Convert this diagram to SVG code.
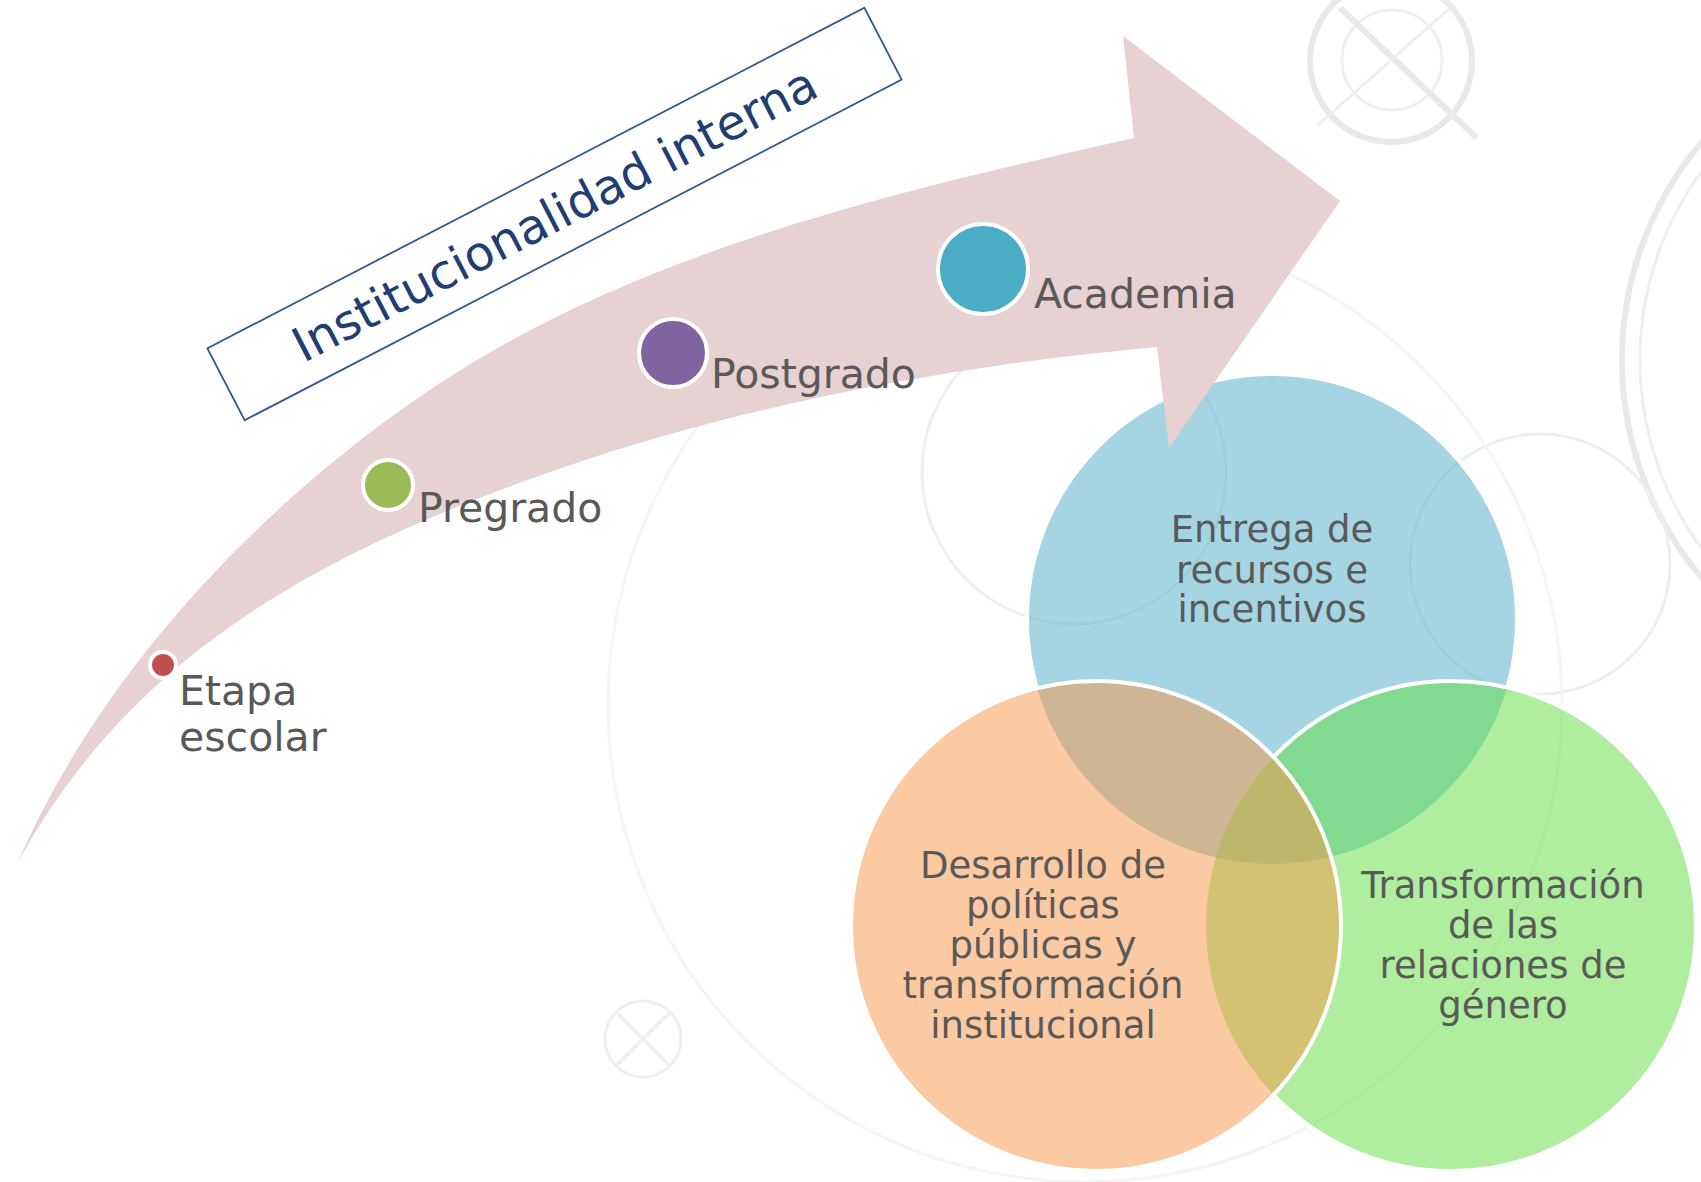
<svg xmlns="http://www.w3.org/2000/svg" width="1701" height="1182" viewBox="0 0 1701 1182">
<style>
.bg{fill:none;stroke:#efefef;stroke-width:3}
.bgt{fill:none;stroke:#e9e9e9;stroke-width:6}
.lbl{font-family:"DejaVu Sans","Verdana",sans-serif;font-size:41px;fill:#595959}
.vt{font-family:"DejaVu Sans","Verdana",sans-serif;font-size:37px;fill:#595959;text-anchor:middle}
.dot{stroke:#fff;stroke-width:4}
.ring{fill:none;stroke:#fff;stroke-width:4}
</style>
<defs>
<mask id="mBlue" maskUnits="userSpaceOnUse" x="0" y="0" width="1701" height="1182">
<rect width="1701" height="1182" fill="#fff"/>
<circle cx="1451" cy="926" r="245" fill="#000"/>
<circle cx="1096" cy="926" r="245" fill="#000"/>
</mask>
<mask id="mGreen" maskUnits="userSpaceOnUse" x="0" y="0" width="1701" height="1182">
<rect width="1701" height="1182" fill="#fff"/>
<circle cx="1096" cy="926" r="245" fill="#000"/>
</mask>
</defs>
<rect width="1701" height="1182" fill="#fff"/>
<g id="background">
<circle class="bgt" cx="1391" cy="61" r="81"/>
<circle class="bg" cx="1392" cy="60" r="50"/>
<line class="bgt" x1="1340" y1="8" x2="1477" y2="138"/>
<line class="bg" x1="1450" y1="8" x2="1317" y2="126"/>
<circle class="bgt" cx="1960" cy="360" r="338"/>
<circle class="bg" cx="1960" cy="360" r="320"/>
<circle class="bg" cx="1074" cy="472" r="152"/>
<circle class="bg" cx="1540" cy="564" r="130"/>
<circle cx="1085" cy="705" r="477" fill="none" stroke="#f5f5f5" stroke-width="3"/>
<circle class="bg" cx="643" cy="1039" r="38"/>
<line class="bg" x1="616" y1="1012" x2="670" y2="1066"/>
<line class="bg" x1="670" y1="1012" x2="616" y2="1066"/>
</g>
<g id="recursos">
<circle cx="1272" cy="619" r="245" fill="#4BACC6" fill-opacity="0.5"/>
<circle class="ring" cx="1272" cy="619" r="245" mask="url(#mBlue)"/>
<text class="vt" x="1272" y="542">Entrega de</text>
<text class="vt" x="1272" y="583">recursos e</text>
<text class="vt" x="1272" y="622">incentivos</text>
</g>
<g id="genero">
<circle cx="1451" cy="926" r="245" fill="#5FDD3D" fill-opacity="0.5"/>
<circle class="ring" cx="1451" cy="926" r="245" mask="url(#mGreen)"/>
<text class="vt" x="1503" y="898">Transformación</text>
<text class="vt" x="1503" y="938">de las</text>
<text class="vt" x="1503" y="978">relaciones de</text>
<text class="vt" x="1503" y="1018">género</text>
</g>
<g id="politicas">
<circle cx="1096" cy="926" r="245" fill="#F79646" fill-opacity="0.5"/>
<circle class="ring" cx="1096" cy="926" r="245"/>
<text class="vt" x="1043" y="878">Desarrollo de</text>
<text class="vt" x="1043" y="918">políticas</text>
<text class="vt" x="1043" y="958">públicas y</text>
<text class="vt" x="1043" y="998">transformación</text>
<text class="vt" x="1043" y="1038">institucional</text>
</g>
<g id="arrow">
<path d="M18,862 C98,678 251,514 415,400 C624,254 885,194 1134,138 L1123,36 L1340,201 L1169,448 L1157,347 C947,366 735,406 536,477 C306,559 128,662 18,862 Z" fill="#E8D1D2"/>
</g>
<g id="title" transform="translate(554.5,214) rotate(-27.4)">
<rect x="-370" y="-40.5" width="740" height="81" fill="none" stroke="#2F5A94" stroke-width="1.8"/>
<text x="0" y="17" text-anchor="middle" font-family="DejaVu Sans, Verdana, sans-serif" font-size="48" fill="#1F3F73">Institucionalidad interna</text>
</g>
<g id="etapa">
<circle class="dot" cx="163" cy="665" r="13" fill="#C0504D"/>
<text class="lbl" x="179" y="705">Etapa</text>
<text class="lbl" x="179" y="751">escolar</text>
</g>
<g id="pregrado">
<circle class="dot" cx="388" cy="485" r="25" fill="#9BBB59"/>
<text class="lbl" x="418" y="522">Pregrado</text>
</g>
<g id="postgrado">
<circle class="dot" cx="673" cy="353" r="34" fill="#8064A2"/>
<text class="lbl" x="711" y="388">Postgrado</text>
</g>
<g id="academia">
<circle class="dot" cx="983" cy="269" r="45" fill="#4BACC6"/>
<text class="lbl" x="1034" y="308">Academia</text>
</g>
</svg>
